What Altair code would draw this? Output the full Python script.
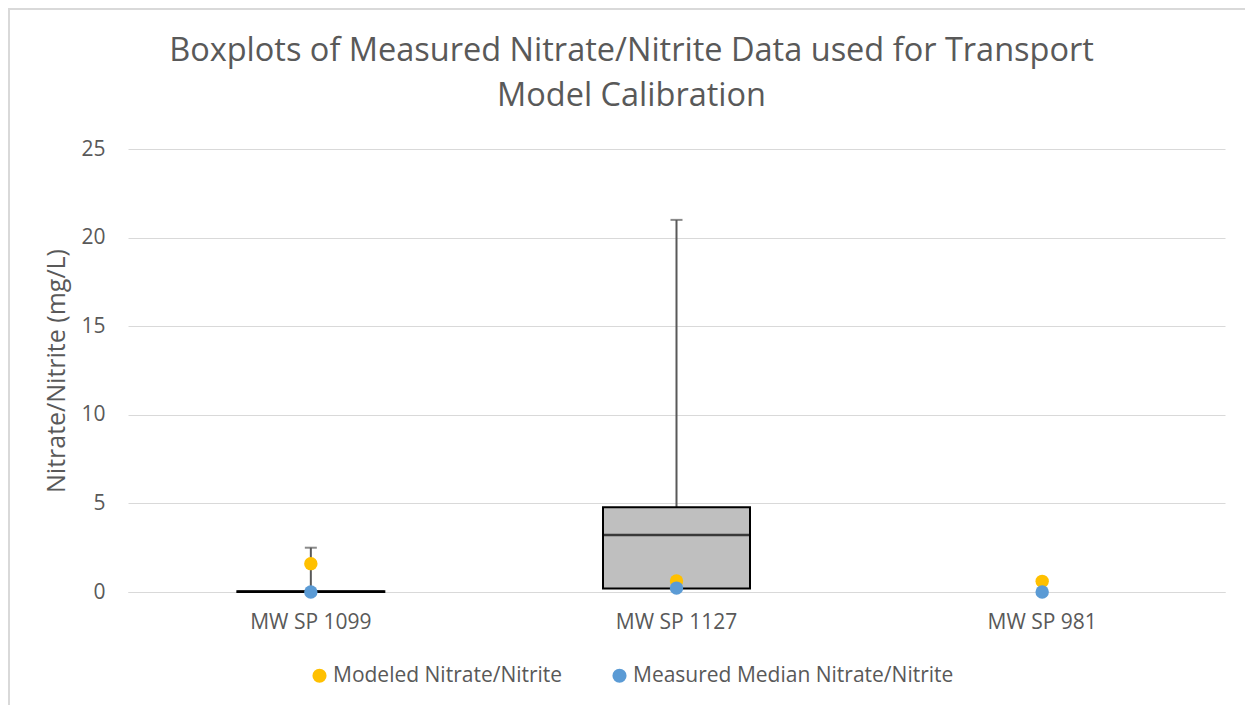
import altair as alt
import pandas as pd

categories = ["MW SP 1099", "MW SP 1127", "MW SP 981"]
modeled = [1.6, 0.62, 0.6]
measured_median = [0.0, 0.22, 0.0]

box_cats = ["MW SP 1099", "MW SP 1127"]
box_min = [0.0, 0.2]
box_q1 = [0.0, 0.2]
box_median = [0.02, 3.22]
box_q3 = [0.04, 4.78]
box_max = [2.5, 21.0]

FONT = "Open Sans"
GREY = "#595959"

box_df = pd.DataFrame({"cat": box_cats, "min": box_min, "q1": box_q1,
                       "median": box_median, "q3": box_q3, "max": box_max})
pts = pd.DataFrame({
    "cat": categories * 2,
    "value": modeled + measured_median,
    "series": ["Modeled Nitrate/Nitrite"] * 3 + ["Measured Median Nitrate/Nitrite"] * 3,
    "order": [0] * 3 + [1] * 3,
})

xenc = alt.X("cat:N", sort=categories, scale=alt.Scale(domain=categories),
             axis=alt.Axis(title=None, labelAngle=0, ticks=False, labelPadding=19,
                           domainColor="#D9D9D9", labelFontSize=21, labelColor=GREY, labelFont=FONT))
yscale = alt.Scale(domain=[0, 25], nice=False)
yaxis = alt.Axis(title="Nitrate/Nitrite (mg/L)", values=[0, 5, 10, 15, 20, 25], ticks=False,
                 domain=False, gridColor="#D9D9D9", labelPadding=23, labelFontSize=21,
                 labelColor=GREY, labelFont=FONT, titleFontSize=25, titleColor=GREY,
                 titleFont=FONT, titleFontWeight="normal", titlePadding=11)

base = alt.Chart(box_df).encode(x=xenc)

whisk_up = base.mark_rule(color=GREY, strokeWidth=2).encode(
    y=alt.Y("q3:Q", scale=yscale, axis=yaxis), y2="max:Q")
cap = base.mark_tick(color=GREY, size=12, thickness=2).encode(y=alt.Y("max:Q", scale=yscale))
box = base.mark_bar(fill="#BFBFBF", stroke="#000000", strokeWidth=2, size=147).encode(
    y=alt.Y("q1:Q", scale=yscale), y2="q3:Q")
med = base.mark_tick(color="#000000", size=147, thickness=2.5).encode(
    y=alt.Y("median:Q", scale=yscale))

points = alt.Chart(pts).mark_circle(size=180, opacity=1).encode(
    x=alt.X("cat:N", sort=categories),
    y=alt.Y("value:Q", scale=yscale),
    order=alt.Order("order:Q"),
    color=alt.Color("series:N",
                    scale=alt.Scale(domain=["Modeled Nitrate/Nitrite", "Measured Median Nitrate/Nitrite"],
                                    range=["#FFC000", "#5B9BD5"]),
                    legend=alt.Legend(title=None, orient="none", direction="horizontal",
                                      legendX=181, legendY=516, symbolType="circle",
                                      symbolSize=200, labelFontSize=21, labelColor=GREY,
                                      labelFont=FONT, columnPadding=46, symbolOffset=0,
                                      labelOffset=3, labelLimit=0)),
)

border = alt.Chart(pd.DataFrame({"a": [0]})).mark_rect(
    fill=None, stroke="#D9D9D9", strokeWidth=2).encode(
    x=alt.value(-119), x2=alt.value(1160), y=alt.value(-140), y2=alt.value(700))

chart = alt.layer(border, whisk_up, cap, box, med, points).properties(
    width=1097, height=443,
    background="white",
    autosize=alt.AutoSizeParams(type="none"),
    padding={"left": 120, "top": 141, "right": 20, "bottom": 113},
    title=alt.TitleParams(
        ["Boxplots of Measured Nitrate/Nitrite Data used for Transport", "Model Calibration"],
        fontSize=32.5, font=FONT, color=GREY, fontWeight="normal", anchor="middle",
        dx=-45, offset=-104, lineHeight=45),
).configure_view(stroke=None)

chart.save("out.html", embed_options={"renderer": "svg", "actions": False})
